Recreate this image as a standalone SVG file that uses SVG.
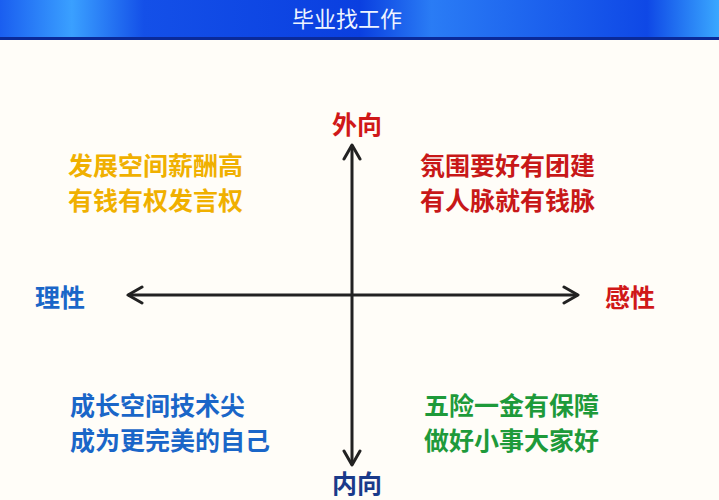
<svg xmlns="http://www.w3.org/2000/svg" width="719" height="500" viewBox="0 0 719 500">
<defs>
<linearGradient id="hb" x1="0" y1="0" x2="1" y2="0">
<stop offset="0" stop-color="#1a5ef0"/><stop offset="0.1" stop-color="#3aa0ff"/><stop offset="0.2" stop-color="#1450e8"/><stop offset="0.5" stop-color="#0a3fe0"/><stop offset="0.6" stop-color="#2a7cf5"/><stop offset="0.9" stop-color="#0f48e6"/><stop offset="1" stop-color="#3aa8ff"/>
</linearGradient>
<marker id="ar" viewBox="0 0 20 20" refX="17" refY="10" markerWidth="20" markerHeight="20" markerUnits="userSpaceOnUse" orient="auto-start-reverse">
<path d="M3,2 L17,10 L3,18" fill="none" stroke="#222" stroke-width="3" stroke-linecap="round" stroke-linejoin="round"/>
</marker>
<style>
.t{font-family:"Noto Sans CJK SC",sans-serif;font-weight:bold;font-size:25px}
.ax{stroke:#222;stroke-width:3;fill:none;marker-end:url(#ar);marker-start:url(#ar)}
</style>
</defs>
<rect width="719" height="500" fill="#fffdf8"/>
<rect width="719" height="38" fill="url(#hb)"/>
<rect y="37" width="719" height="3" fill="#0a2a9a"/>
<text x="347" y="27" text-anchor="middle" font-family="Noto Sans CJK SC,sans-serif" font-size="22" fill="#eef4ff">毕业找工作</text>
<g id="connectors">
<line class="ax" x1="128" y1="295" x2="578" y2="295"/>
<line class="ax" x1="352" y1="465" x2="352" y2="145"/>
</g>
<g id="n-out"><text class="t" x="357" y="134" text-anchor="middle" fill="#d01818" font-size="24">外向</text></g>
<g id="n-in"><text class="t" x="357" y="493" text-anchor="middle" fill="#1a3a8a" font-size="24">内向</text></g>
<g id="n-rational"><text class="t" x="60" y="307" text-anchor="middle" fill="#1a66c8" font-size="24">理性</text></g>
<g id="n-emotional"><text class="t" x="630" y="307" text-anchor="middle" fill="#d01818" font-size="26">感性</text></g>
<g id="n-tl"><text class="t" fill="#f0b000"><tspan x="68" y="175">发展空间薪酬高</tspan><tspan x="68" y="210">有钱有权发言权</tspan></text></g>
<g id="n-tr"><text class="t" fill="#c81818"><tspan x="420" y="175">氛围要好有团建</tspan><tspan x="420" y="210">有人脉就有钱脉</tspan></text></g>
<g id="n-bl"><text class="t" fill="#1a66c8"><tspan x="70" y="415">成长空间技术尖</tspan><tspan x="70" y="450">成为更完美的自己</tspan></text></g>
<g id="n-br"><text class="t" fill="#1e9a3a"><tspan x="424" y="415">五险一金有保障</tspan><tspan x="424" y="450">做好小事大家好</tspan></text></g>
</svg>
